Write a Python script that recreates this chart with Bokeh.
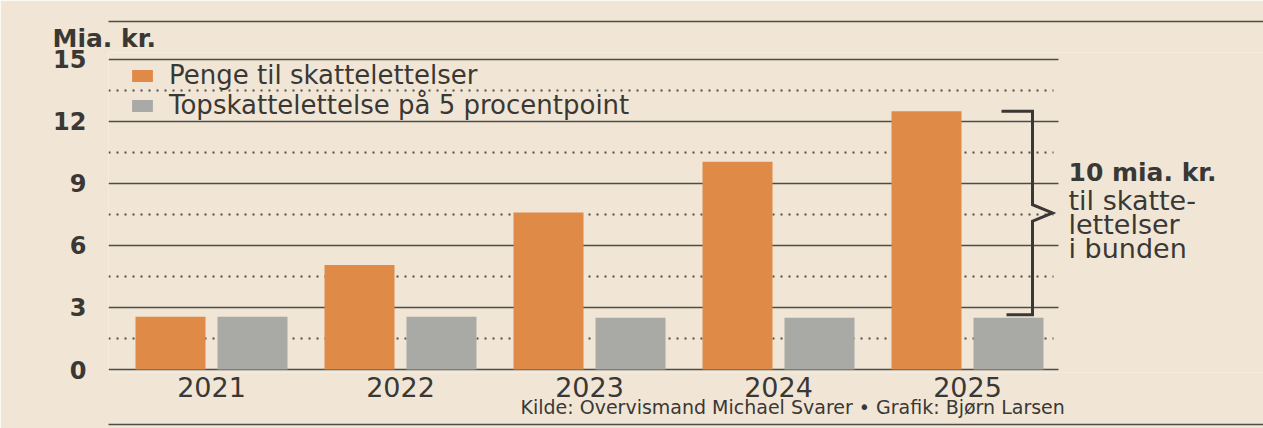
from bokeh.plotting import figure
from bokeh.models import (Range1d, FixedTicker, Legend, LegendItem, ColumnDataSource,
                          Title, LinearAxis)
from bokeh.transform import dodge
from bokeh.core.properties import value
from bokeh.embed import file_html
from bokeh.resources import INLINE

# ---- data ----
years = [2021, 2022, 2023, 2024, 2025]
penge = [2.55, 5.05, 7.6, 10.05, 12.5]        # Penge til skattelettelser
topskat = [2.55, 2.55, 2.5, 2.5, 2.5]          # Topskattelettelse på 5 procentpoint
solid_ticks = [0, 3, 6, 9, 12, 15]
dotted_ticks = [1.5, 4.5, 7.5, 10.5, 13.5]
series_labels = ["Penge til skattelettelser", "Topskattelettelse på 5 procentpoint"]
unit_label = "Mia. kr."
note_head = "10 mia. kr."
note_lines = ["til skatte-", "lettelser", "i bunden"]
source_text = "Kilde: Overvismand Michael Svarer  \u2022  Grafik: Bj\u00f8rn Larsen"

# ---- style ----
BG = "#f1e6d5"
ORANGE = "#e08a47"
GREY = "#a9aaa6"
INK = "#3a3835"
LINE = "#4e4c49"
FONT = "DejaVu Sans"

W, H = 1263, 428
LEFT, TOP, BOTTOM = 108, 52, 56
PX_YEAR = 189.0
PX_UNIT = 20.67
ZERO_PX = 369
frame_w = W - LEFT
frame_h = H - BOTTOM - TOP

x0 = years[0] - (211 - LEFT) / PX_YEAR
x1 = x0 + frame_w / PX_YEAR
y0 = -(H - BOTTOM - ZERO_PX) / PX_UNIT
y1 = y0 + frame_h / PX_UNIT

def px_x(px):
    return x0 + (px - LEFT) / PX_YEAR

def px_y(py):
    return (ZERO_PX - py) / PX_UNIT

p = figure(width=W, height=H, x_range=Range1d(x0, x1), y_range=Range1d(y0, y1),
           output_backend="svg", toolbar_location=None,
           min_border_left=LEFT, min_border_right=0, min_border_top=TOP, min_border_bottom=BOTTOM,
           background_fill_color=BG, border_fill_color=BG, outline_line_color=None)
p.title = None
p.grid.visible = False

# grid lines (stop short of the annotation)
g_end = px_x(1058)
d_end = px_x(1053)
p.segment(x0=[x0] * len(dotted_ticks), y0=dotted_ticks, x1=[d_end] * len(dotted_ticks), y1=dotted_ticks,
          line_color=LINE, line_width=2, line_dash="2 6")
p.segment(x0=[x0] * len(solid_ticks), y0=solid_ticks, x1=[g_end] * len(solid_ticks), y1=solid_ticks,
          line_color=LINE, line_width=1.6)

# bars
src = ColumnDataSource(dict(year=years, penge=penge, topskat=topskat))
off = 41 / PX_YEAR
bw = 70 / PX_YEAR
r1 = p.vbar(x=dodge("year", -off), top="penge", bottom=0, width=bw, source=src,
            fill_color=ORANGE, line_color=None)
r2 = p.vbar(x=dodge("year", off), top="topskat", bottom=0, width=bw, source=src,
            fill_color=GREY, line_color=None)

# bracket showing the difference in the last year
top = penge[-1]
bot = topskat[-1] + 0.15
mid = (top + bot) / 2
notch = 0.4
xv = px_x(1032)
p.line(x=[px_x(1001), xv, xv, px_x(1052), xv, xv, px_x(1006)],
       y=[top, top, mid + notch, mid, mid - notch, bot, bot],
       line_color=INK, line_width=3, line_join="miter")

xt = px_x(1068)
p.text(x=[xt], y=[px_y(172)], text=[note_head], text_font=value(FONT), text_font_size="25px",
       text_font_style="bold", text_color=INK, text_baseline="middle", text_align="left")
p.text(x=[xt] * 3, y=[px_y(200), px_y(224), px_y(248)], text=note_lines, text_font=value(FONT),
       text_font_size="27px", text_color=INK, text_baseline="middle", text_align="left")

# legend
legend = Legend(items=[LegendItem(label=series_labels[0], renderers=[r1]),
                       LegendItem(label=series_labels[1], renderers=[r2])],
                location=(21, 252), orientation="vertical")
legend.label_text_font = FONT
legend.label_text_font_size = "26px"
legend.label_text_color = INK
legend.label_text_baseline = "middle"
legend.glyph_width = 26
legend.glyph_height = 15
legend.label_height = 24
legend.label_standoff = 14
legend.spacing = -3
legend.padding = 0
legend.margin = 0
legend.border_line_color = None
legend.background_fill_alpha = 0
p.add_layout(legend)

# axes
p.yaxis.ticker = FixedTicker(ticks=solid_ticks)
p.yaxis.major_label_text_font = FONT
p.yaxis.major_label_text_font_size = "24px"
p.yaxis.major_label_text_font_style = "bold"
p.yaxis.major_label_text_color = INK
p.yaxis.axis_line_color = None
p.yaxis.major_tick_line_color = None
p.yaxis.minor_tick_line_color = None
p.yaxis.major_label_standoff = 16

p.xaxis.ticker = FixedTicker(ticks=years)
p.xaxis.major_label_text_font = FONT
p.xaxis.major_label_text_font_size = "27px"
p.xaxis.major_label_text_color = INK
p.xaxis.axis_line_color = None
p.xaxis.major_tick_line_color = None
p.xaxis.minor_tick_line_color = None
p.xaxis.major_label_standoff = -2

# unit label (top left), then a thin newspaper rule outside it
unit_title = Title(text=unit_label, align="left", offset=52 - LEFT, vertical_align="bottom",
                   text_font=FONT, text_font_size="25px", text_font_style="bold",
                   text_color=INK, standoff=0)
p.add_layout(unit_title, "above")
top_rule = LinearAxis(ticker=FixedTicker(ticks=[]), axis_line_color=LINE, axis_line_width=1.5,
                      major_tick_line_color=None, minor_tick_line_color=None,
                      major_label_text_font_size="0px")
p.add_layout(top_rule, "above")

# source line below the years, then a spacer and a thin rule at the bottom
src_title = Title(text=source_text, align="left", offset=520 - LEFT, vertical_align="top",
                  text_font=FONT, text_font_size="19px", text_font_style="normal",
                  text_color=INK, standoff=-8)
p.add_layout(src_title, "below")
spacer = Title(text=" ", text_font_size="1px", standoff=6)
p.add_layout(spacer, "below")
bottom_rule = LinearAxis(ticker=FixedTicker(ticks=[]), axis_line_color=LINE, axis_line_width=1.5,
                         major_tick_line_color=None, minor_tick_line_color=None,
                         major_label_text_font_size="0px")
p.add_layout(bottom_rule, "below")

open("out.html", "w").write(file_html(p, INLINE))
